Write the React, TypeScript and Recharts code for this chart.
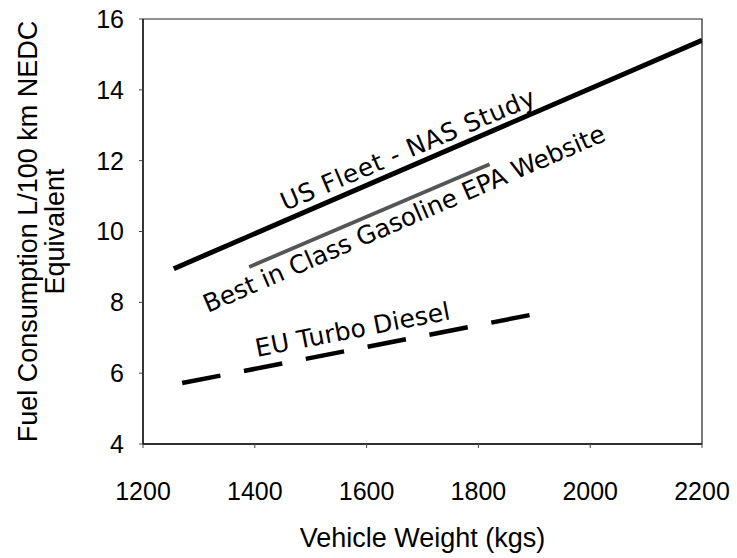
import React from 'react';
import { LineChart, Line, XAxis, YAxis, ReferenceArea, ReferenceDot } from 'recharts';

// Axis ticks
const xTicks = [1200, 1400, 1600, 1800, 2000, 2200];
const yTicks = [4, 6, 8, 10, 12, 14, 16];

// Series (vehicle weight kg -> fuel consumption L/100km)
const usFleetWeight = [1255, 2200];
const usFleetFuel = [8.95, 15.4];
const bestGasWeight = [1390, 1820];
const bestGasFuel = [9.0, 11.9];
const euDieselWeight = [1270, 1895];
const euDieselFuel = [5.72, 7.65];

// Inline series labels (anchored in data coordinates)
const seriesLabels = ['US Fleet - NAS Study', 'Best in Class Gasoline EPA Website', 'EU Turbo Diesel'];
const labelWeight = [1454, 1316, 1404];
const labelFuel = [10.58, 7.7, 6.46];

const labelAngle = [-23, -23.4, -11];
const labelLength = [274, 435, 198];

const toRows = (xs: number[], ys: number[]) => xs.map((x, i) => ({ w: x, f: ys[i] }));

const usFleet = toRows(usFleetWeight, usFleetFuel);
const bestGas = toRows(bestGasWeight, bestGasFuel);
const euDiesel = toRows(euDieselWeight, euDieselFuel);

const AXIS_FONT = '"Liberation Sans", Arial, sans-serif';
const NOTE_FONT = '"DejaVu Sans", sans-serif';

const YLabel = (props: any) => {
  const vb = props.viewBox || {};
  const cy = vb.y + vb.height / 2;
  const x1 = vb.x + 37;
  const x2 = vb.x + 64;
  return (
    <g>
      <text x={x1} y={cy} transform={`rotate(-90, ${x1}, ${cy})`} textAnchor="middle"
        fontFamily={AXIS_FONT} fontSize={27} fill="#000">Fuel Consumption L/100 km NEDC</text>
      <text x={x2} y={cy} transform={`rotate(-90, ${x2}, ${cy})`} textAnchor="middle"
        fontFamily={AXIS_FONT} fontSize={27} fill="#000">Equivalent</text>
    </g>
  );
};

const XLabel = (props: any) => {
  const vb = props.viewBox || {};
  const cx = vb.x + vb.width / 2;
  const y = vb.y + 103;
  return (
    <text x={cx} y={y} textAnchor="middle" fontFamily={AXIS_FONT} fontSize={27} fill="#000">
      Vehicle Weight (kgs)
    </text>
  );
};

const makeNote = (i: number) => (p: any) => (
  <text x={p.cx} y={p.cy} transform={`rotate(${labelAngle[i]}, ${p.cx}, ${p.cy})`}
    fontFamily={NOTE_FONT} fontSize={25} fill="#000" textLength={labelLength[i]} lengthAdjust="spacing">
    {seriesLabels[i]}
  </text>
);

export default function App() {
  return (
    <div style={{ position: 'absolute', left: 0, top: 0, background: '#fff' }}>
      <LineChart width={737} height={558} margin={{ top: 19, right: 35, bottom: 0, left: 0 }}>
        <XAxis dataKey="w" type="number" domain={[1200, 2200]} ticks={xTicks} height={114}
          allowDataOverflow
          axisLine={{ stroke: '#111', strokeWidth: 1.3 }}
          tickLine={{ stroke: '#444', strokeWidth: 1 }} tickSize={4} tickMargin={34}
          tick={{ fill: '#000', fontSize: 25, fontFamily: AXIS_FONT }}
          label={{ content: XLabel }} />
        <YAxis type="number" domain={[4, 16]} ticks={yTicks} width={143}
          allowDataOverflow
          axisLine={{ stroke: '#111', strokeWidth: 1.3 }}
          tickLine={{ stroke: '#444', strokeWidth: 1 }} tickSize={4} tickMargin={15}
          tick={{ fill: '#000', fontSize: 25, fontFamily: AXIS_FONT }}
          label={{ content: YLabel }} />
        <ReferenceArea x1={1200} x2={2200} y1={4} y2={16} fill="none" stroke="#222" strokeWidth={1.2} />
        <Line data={usFleet} dataKey="f" type="linear" stroke="#000" strokeWidth={5}
          dot={false} isAnimationActive={false} />
        <Line data={bestGas} dataKey="f" type="linear" stroke="#555" strokeWidth={3.8}
          dot={false} isAnimationActive={false} />
        <Line data={euDiesel} dataKey="f" type="linear" stroke="#000" strokeWidth={4.5}
          strokeDasharray="39 24" dot={false} isAnimationActive={false} />
        {seriesLabels.map((_, i) => (
          <ReferenceDot key={i} x={labelWeight[i]} y={labelFuel[i]} r={0} shape={makeNote(i)} />
        ))}
      </LineChart>
    </div>
  );
}
